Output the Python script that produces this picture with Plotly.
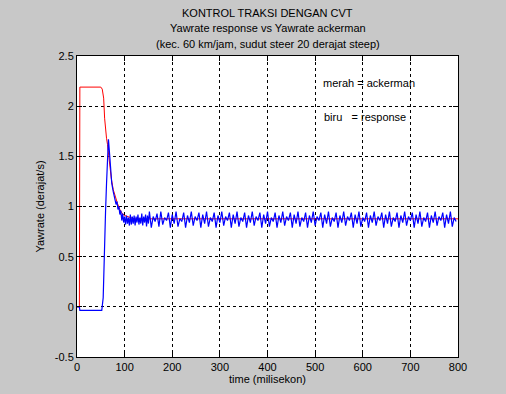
import plotly.graph_objects as go

# Red: Yawrate ackerman
red_t = [0, 5, 6, 50, 53, 56, 58, 60, 62, 64, 66, 68, 72, 76, 80, 85, 90, 95, 100, 110, 120, 800]
red_y = [0, 0, 2.19, 2.19, 2.17, 2.08, 1.88, 1.74, 1.68, 1.62, 1.52, 1.44, 1.28, 1.17, 1.10, 1.03,
         0.97, 0.93, 0.91, 0.89, 0.877, 0.877]

# Blue: Yawrate response (transient part)
blue_t_start = [0, 5, 6, 52, 55, 57, 60, 62, 64, 66, 68, 70, 73, 76, 80, 82, 84, 86, 88, 90, 92, 94, 96, 98]
blue_y_start = [0, 0, -0.035, -0.035, 0.09, 0.56, 0.96, 1.23, 1.59, 1.67, 1.55, 1.43, 1.23, 1.15,
                1.08, 1.02, 1.05, 0.97, 1.00, 0.92, 0.96, 0.86, 0.93, 0.84]

# Blue: dense settling part, every 2 ms from 100 to 150
blue_t_dense = list(range(100, 152, 2))
blue_y_dense = [
    0.90, 0.82, 0.91, 0.83, 0.89, 0.81, 0.92, 0.82, 0.90, 0.83,
    0.91, 0.81, 0.90, 0.84, 0.92, 0.82, 0.89, 0.83, 0.93, 0.81,
    0.90, 0.84, 0.92, 0.80, 0.91, 0.83,
]

# Blue: steady oscillating part, every 4 ms from 152 to 800
blue_t_steady = list(range(152, 801, 4))
blue_y_steady = [
    0.95, 0.79, 0.90,
    0.85, 0.93, 0.80,
    0.95, 0.82, 0.89, 0.86, 0.94, 0.79, 0.92, 0.83, 0.95, 0.80,
    0.88, 0.85, 0.94, 0.79, 0.91, 0.84, 0.95, 0.81, 0.90, 0.86,
    0.94, 0.79, 0.92, 0.83, 0.95, 0.80, 0.89, 0.85, 0.94, 0.79,
    0.91, 0.84, 0.95, 0.81, 0.90, 0.86, 0.94, 0.79, 0.92, 0.83,
    0.95, 0.80, 0.89, 0.85, 0.94, 0.79, 0.91, 0.84, 0.95, 0.81,
    0.90, 0.86, 0.94, 0.79, 0.92, 0.83, 0.95, 0.80, 0.89, 0.85,
    0.94, 0.79, 0.91, 0.84, 0.95, 0.81, 0.90, 0.86, 0.94, 0.79,
    0.92, 0.83, 0.95, 0.80, 0.89, 0.85, 0.94, 0.79, 0.91, 0.84,
    0.95, 0.81, 0.90, 0.86, 0.94, 0.79, 0.92, 0.83, 0.95, 0.80,
    0.89, 0.85, 0.94, 0.79, 0.91, 0.84, 0.95, 0.81, 0.90, 0.86,
    0.94, 0.79, 0.92, 0.83, 0.95, 0.80, 0.89, 0.85, 0.94, 0.79,
    0.91, 0.84, 0.95, 0.81, 0.90, 0.86, 0.94, 0.79, 0.92, 0.83,
    0.95, 0.80, 0.89, 0.85, 0.94, 0.79, 0.91, 0.84, 0.95, 0.81,
    0.90, 0.86, 0.94, 0.79, 0.92, 0.83, 0.95, 0.80, 0.89, 0.85,
    0.94, 0.79, 0.91, 0.84, 0.95, 0.81, 0.90, 0.86, 0.94, 0.79,
    0.92, 0.83, 0.95, 0.80, 0.89, 0.85,
]

blue_t = blue_t_start + blue_t_dense + blue_t_steady
blue_y = blue_y_start + blue_y_dense + blue_y_steady[:len(blue_t_steady)]

x_ticks = [0, 100, 200, 300, 400, 500, 600, 700, 800]
y_ticks = [-0.5, 0, 0.5, 1, 1.5, 2, 2.5]
y_tick_labels = ["-0.5", "0", "0.5", "1", "1.5", "2", "2.5"]

title_lines = ["KONTROL TRAKSI DENGAN CVT",
               "Yawrate response vs Yawrate ackerman",
               "(kec. 60 km/jam, sudut steer 20 derajat steep)"]

FONT = "Liberation Sans, Arial, sans-serif"
BG = "#c8c8c8"

fig = go.Figure()
fig.add_trace(go.Scatter(x=red_t, y=red_y, mode="lines",
                         line=dict(color="#ff0000", width=1), showlegend=False))
fig.add_trace(go.Scatter(x=blue_t, y=blue_y, mode="lines",
                         line=dict(color="#0000ff", width=1.2), showlegend=False))

axis_common = dict(
    showline=True, linecolor="black", linewidth=1, mirror="ticks",
    ticks="inside", ticklen=5, tickcolor="black",
    showgrid=True, gridcolor="black", gridwidth=1, griddash="3px,3px",
    zeroline=False, tickfont=dict(family=FONT, size=11, color="black"),
)

fig.update_xaxes(range=[0, 800], tickvals=x_ticks,
                 title=dict(text="time (milisekon)", font=dict(family=FONT, size=11, color="black"),
                            standoff=2),
                 **axis_common)
fig.update_yaxes(range=[-0.5, 2.5], tickvals=y_ticks, ticktext=y_tick_labels,
                 title=dict(text="Yawrate (derajat/s)", font=dict(family=FONT, size=11, color="black"),
                            standoff=7),
                 **axis_common)

annotations = []
for line, yp in zip(title_lines, [13, 28.5, 44]):
    annotations.append(dict(text=line, xref="paper", yref="paper", x=0.5,
                            y=1 + (56 - yp) / 301, xanchor="center", yanchor="middle",
                            showarrow=False, font=dict(family=FONT, size=11, color="black")))
annotations.append(dict(text="merah = ackerman", x=512, y=2.23, xref="x", yref="y",
                        xanchor="left", yanchor="middle", showarrow=False,
                        font=dict(family=FONT, size=11, color="black")))
annotations.append(dict(text="biru   = response", x=514, y=1.89, xref="x", yref="y",
                        xanchor="left", yanchor="middle", showarrow=False,
                        font=dict(family=FONT, size=11, color="black")))

fig.update_layout(
    width=506, height=394,
    margin=dict(l=77, r=48, t=56, b=37),
    paper_bgcolor=BG, plot_bgcolor="white",
    annotations=annotations,
    font=dict(family=FONT, size=11, color="black"),
)

fig.write_html("out.html")
